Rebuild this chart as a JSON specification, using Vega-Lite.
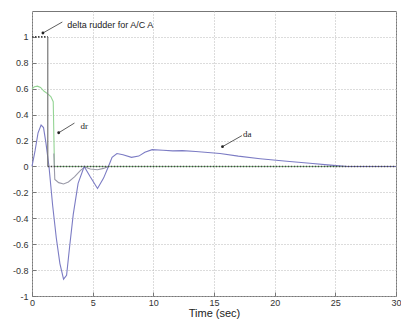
{
  "$schema": "https://vega.github.io/schema/vega-lite/v6.json",
  "autosize": {"type": "none"},
  "padding": {"left": 32, "top": 11, "right": 5, "bottom": 26},
  "width": 364,
  "height": 285,
  "background": "white",
  "config": {
    "view": {"stroke": "#777", "strokeWidth": 1}
  },
  "datasets": {
    "curves": [
      {"series": "dr", "t": 0, "v": 0.6}, {"series": "dr", "t": 0.2, "v": 0.615}, {"series": "dr", "t": 0.45, "v": 0.62}, {"series": "dr", "t": 0.7, "v": 0.61}, {"series": "dr", "t": 1.0, "v": 0.58}, {"series": "dr", "t": 1.3, "v": 0.56}, {"series": "dr", "t": 1.55, "v": 0.54}, {"series": "dr", "t": 1.75, "v": 0.5}, {"series": "dr", "t": 1.85, "v": 0.0}, {"series": "dr", "t": 30, "v": 0.0},
      {"series": "dr2", "t": 1.8, "v": 0.1}, {"series": "dr2", "t": 1.88, "v": -0.1}, {"series": "dr2", "t": 2.2, "v": -0.125}, {"series": "dr2", "t": 2.6, "v": -0.135}, {"series": "dr2", "t": 3.0, "v": -0.12}, {"series": "dr2", "t": 3.5, "v": -0.08}, {"series": "dr2", "t": 4.0, "v": -0.03}, {"series": "dr2", "t": 4.35, "v": -0.005}, {"series": "dr2", "t": 4.8, "v": -0.02}, {"series": "dr2", "t": 5.4, "v": -0.025}, {"series": "dr2", "t": 5.9, "v": -0.015}, {"series": "dr2", "t": 6.3, "v": 0.0},
      {"series": "da", "t": 0, "v": 0.0}, {"series": "da", "t": 0.25, "v": 0.12}, {"series": "da", "t": 0.5, "v": 0.26}, {"series": "da", "t": 0.75, "v": 0.32}, {"series": "da", "t": 0.95, "v": 0.3}, {"series": "da", "t": 1.15, "v": 0.18}, {"series": "da", "t": 1.4, "v": 0.0}, {"series": "da", "t": 1.7, "v": -0.3}, {"series": "da", "t": 2.0, "v": -0.55}, {"series": "da", "t": 2.3, "v": -0.75}, {"series": "da", "t": 2.6, "v": -0.87}, {"series": "da", "t": 2.85, "v": -0.84}, {"series": "da", "t": 3.1, "v": -0.62}, {"series": "da", "t": 3.4, "v": -0.37}, {"series": "da", "t": 3.8, "v": -0.13}, {"series": "da", "t": 4.3, "v": 0.0}, {"series": "da", "t": 4.8, "v": -0.08}, {"series": "da", "t": 5.4, "v": -0.17}, {"series": "da", "t": 5.9, "v": -0.09}, {"series": "da", "t": 6.3, "v": 0.0}, {"series": "da", "t": 6.6, "v": 0.07}, {"series": "da", "t": 7.0, "v": 0.1}, {"series": "da", "t": 7.5, "v": 0.09}, {"series": "da", "t": 8.2, "v": 0.07}, {"series": "da", "t": 8.8, "v": 0.08}, {"series": "da", "t": 9.3, "v": 0.11}, {"series": "da", "t": 9.9, "v": 0.13}, {"series": "da", "t": 10.8, "v": 0.125}, {"series": "da", "t": 11.6, "v": 0.12}, {"series": "da", "t": 12.4, "v": 0.122}, {"series": "da", "t": 13.5, "v": 0.115}, {"series": "da", "t": 15.5, "v": 0.1}, {"series": "da", "t": 17, "v": 0.08}, {"series": "da", "t": 18.8, "v": 0.06}, {"series": "da", "t": 21, "v": 0.04}, {"series": "da", "t": 22.9, "v": 0.025}, {"series": "da", "t": 24.6, "v": 0.01}, {"series": "da", "t": 26, "v": 0.0}, {"series": "da", "t": 30, "v": 0.0}
    ],
    "step": [
      {"part": "level", "t": 0, "v": 1, "t2": 1.3, "v2": 1},
      {"part": "jump", "t": 1.3, "v": 1, "t2": 1.3, "v2": 0},
      {"part": "level", "t": 1.3, "v": 0, "t2": 30, "v2": 0}
    ],
    "arrows": [
      {"t": 2.5, "v": 1.115, "t2": 0.9, "v2": 1.03},
      {"t": 3.5, "v": 0.335, "t2": 2.2, "v2": 0.26},
      {"t": 17.3, "v": 0.238, "t2": 15.7, "v2": 0.153}
    ],
    "labels": [
      {"t": 2.9, "v": 1.09, "text": "delta rudder for A/C A", "kind": "sans"},
      {"t": 4.0, "v": 0.315, "text": "dr", "kind": "serif"},
      {"t": 17.4, "v": 0.25, "text": "da", "kind": "serif"}
    ]
  },
  "layer": [
    {
      "data": {"name": "curves"},
      "mark": {"type": "line", "strokeWidth": 1.1},
      "encoding": {
        "x": {"field": "t", "type": "quantitative", "scale": {"domain": [0, 30], "nice": false},
              "axis": {"values": [0, 5, 10, 15, 20, 25, 30], "tickCount": 20, "title": "Time (sec)", "labelPadding": 6, "titlePadding": 0,
                       "grid": true, "gridColor": "#b8b8b8", "gridDash": [1, 2], "gridWidth": 1,
                       "domain": false, "tickColor": "#777", "tickSize": -4, "ticks": true,
                       "labelOverlap": false, "labelFlush": false,
                       "labelFont": "Liberation Sans", "labelFontSize": 9, "labelColor": "#333",
                       "titleFont": "Liberation Sans", "titleFontSize": 11, "titleFontWeight": "normal", "titleColor": "#222"}},
        "y": {"field": "v", "type": "quantitative", "scale": {"domain": [-1, 1.2], "nice": false, "zero": false},
              "axis": {"values": [-1, -0.8, -0.6, -0.4, -0.2, 0, 0.2, 0.4, 0.6, 0.8, 1], "tickCount": 20, "labelExpr": "datum.value + ''", "title": null, "labelPadding": 8,
                       "grid": true, "gridColor": "#b8b8b8", "gridDash": [1, 2], "gridWidth": 1,
                       "domain": false, "tickColor": "#777", "tickSize": -4, "ticks": true,
                       "labelOverlap": false, "labelFlush": false, "labelBound": false,
                       "labelFont": "Liberation Sans", "labelFontSize": 9, "labelColor": "#333"}},
        "color": {"field": "series", "type": "nominal", "legend": null,
                  "scale": {"domain": ["dr", "dr2", "da"], "range": ["#94d494", "#9a9aa8", "#7c7cc4"]}},
        "order": {"field": "t", "type": "quantitative"}
      }
    },
    {
      "data": {"name": "step"},
      "transform": [{"filter": "datum.part === 'level'"}],
      "mark": {"type": "rule", "color": "#444", "strokeWidth": 1.6, "strokeDash": [1.5, 1.5]},
      "encoding": {
        "x": {"field": "t", "type": "quantitative"},
        "x2": {"field": "t2"},
        "y": {"field": "v", "type": "quantitative"},
        "y2": {"field": "v2"}
      }
    },
    {
      "data": {"name": "step"},
      "transform": [{"filter": "datum.part === 'jump'"}],
      "mark": {"type": "rule", "color": "#777", "strokeWidth": 1.2},
      "encoding": {
        "x": {"field": "t", "type": "quantitative"},
        "x2": {"field": "t2"},
        "y": {"field": "v", "type": "quantitative"},
        "y2": {"field": "v2"}
      }
    },
    {
      "data": {"name": "arrows"},
      "mark": {"type": "rule", "color": "#333", "strokeWidth": 0.8},
      "encoding": {
        "x": {"field": "t", "type": "quantitative"},
        "x2": {"field": "t2"},
        "y": {"field": "v", "type": "quantitative"},
        "y2": {"field": "v2"}
      }
    },
    {
      "data": {"name": "arrows"},
      "mark": {"type": "point", "filled": true, "color": "#222", "size": 8, "opacity": 1},
      "encoding": {
        "x": {"field": "t2", "type": "quantitative"},
        "y": {"field": "v2", "type": "quantitative"}
      }
    },
    {
      "data": {"name": "labels"},
      "transform": [{"filter": "datum.kind === 'sans'"}],
      "mark": {"type": "text", "align": "left", "baseline": "middle", "font": "Liberation Sans", "fontSize": 9, "color": "#222"},
      "encoding": {
        "x": {"field": "t", "type": "quantitative"},
        "y": {"field": "v", "type": "quantitative"},
        "text": {"field": "text"}
      }
    },
    {
      "data": {"name": "labels"},
      "transform": [{"filter": "datum.kind === 'serif'"}],
      "mark": {"type": "text", "align": "left", "baseline": "middle", "font": "Liberation Serif", "fontSize": 9, "color": "#222"},
      "encoding": {
        "x": {"field": "t", "type": "quantitative"},
        "y": {"field": "v", "type": "quantitative"},
        "text": {"field": "text"}
      }
    }
  ]
}
